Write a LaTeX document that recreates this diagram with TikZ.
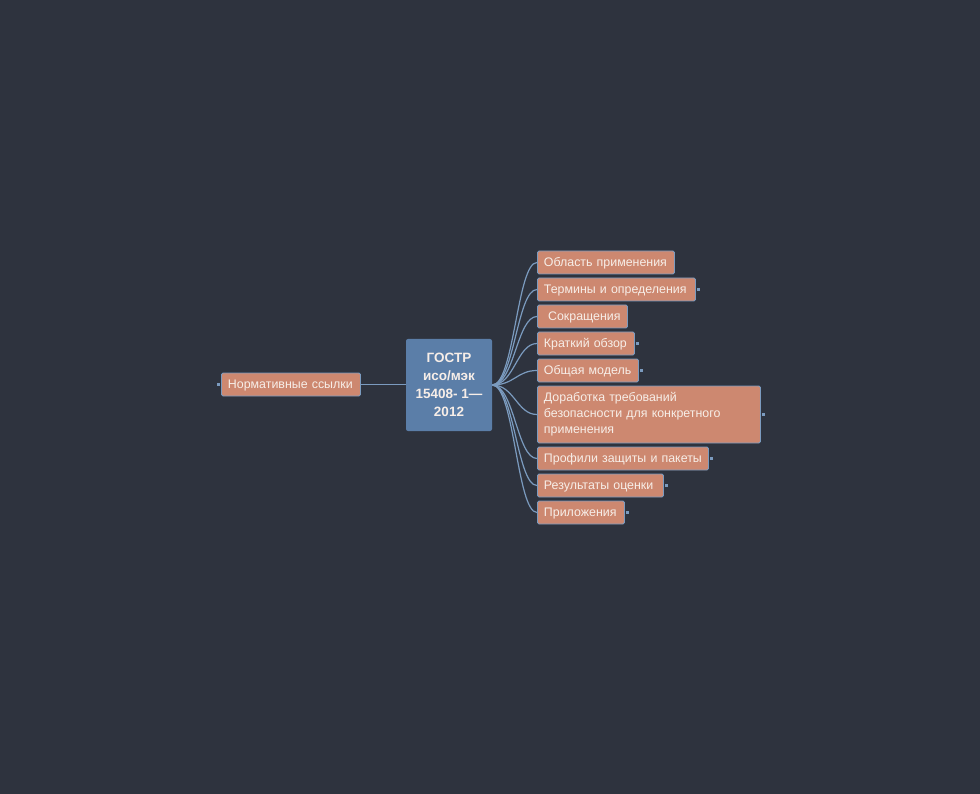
\documentclass[tikz,border=0pt]{standalone}
\usepackage{fontspec}
\setmainfont{Liberation Sans}
\usetikzlibrary{positioning}
\definecolor{bgdark}{HTML}{2E333E}
\definecolor{hubblue}{HTML}{5B7EA8}
\definecolor{topicfill}{HTML}{CD8870}
\definecolor{edgeblue}{HTML}{7B9BBF}
\definecolor{topictext}{HTML}{F7EEE8}
\tikzset{
  topic/.style={draw=edgeblue, line width=0.9pt, fill=topicfill, rounded corners=1.5pt,
    anchor=west, minimum height=23pt, inner xsep=6.5pt, inner ysep=2pt,
    text=topictext, font=\fontsize{12.4}{16}\selectfont, align=left},
  oneline/.style={topic, text height=9pt, text depth=0.5pt},
  hubbox/.style={fill=hubblue, rounded corners=2pt, minimum width=86pt, minimum height=92pt,
    text=topictext, font=\bfseries\fontsize{13.5}{18}\selectfont, align=center},
  branch/.style={draw=edgeblue, line width=1.2pt},
  knob/.style={fill=edgeblue}
}
\begin{document}
\begin{tikzpicture}[x=1pt,y=-1pt]
  \fill[bgdark] (0,0) rectangle (980,794);
  \useasboundingbox (0,0) rectangle (980,794);

  % central node
  \node[hubbox] (hub) at (449,385) {ГОСТР\\исо/мэк\\15408- 1—\\2012};

  % left branch
  \node[oneline, text width=126pt] (norm) at (221,384.5) {Нормативные ссылки};
  \draw[branch] (norm.east) -- (norm.east -| hub.west);
  \fill[knob] ([shift={(-4.5,-1.5)}]norm.west) rectangle +(3.5,3);

  % right branches
  \node[oneline, text width=124pt] (obl) at (537,262.5) {Область применения};
  \node[oneline, text width=145pt] (term) at (537,289.5) {Термины и определения};
  \node[oneline, text width=77pt] (sokr) at (537,316.5) {\ Сокращения};
  \node[oneline, text width=84pt] (obzor) at (537,343.5) {Краткий обзор};
  \node[oneline, text width=88pt] (model) at (537,370.5) {Общая модель};
  \node[topic, text width=210pt, minimum height=57pt] (dorab) at (537,414.5)
    {Доработка требований\\безопасности для конкретного\\применения};
  \node[oneline, text width=158pt] (prof) at (537,458.5) {Профили защиты и пакеты};
  \node[oneline, text width=113pt] (rez) at (537,485.5) {Результаты оценки};
  \node[oneline, text width=74pt] (pril) at (537,512.5) {Приложения};

  \foreach \n in {obl,term,sokr,obzor,model,dorab,prof,rez,pril}
    \draw[branch] (hub.east) .. controls +(22,0) and +(-20,0) .. (\n.west);

  % collapse knobs
  \foreach \n in {term,obzor,model,dorab,prof,rez,pril}
    \fill[knob] ([shift={(1,-1.5)}]\n.east) rectangle +(3.5,3);
\end{tikzpicture}
\end{document}
